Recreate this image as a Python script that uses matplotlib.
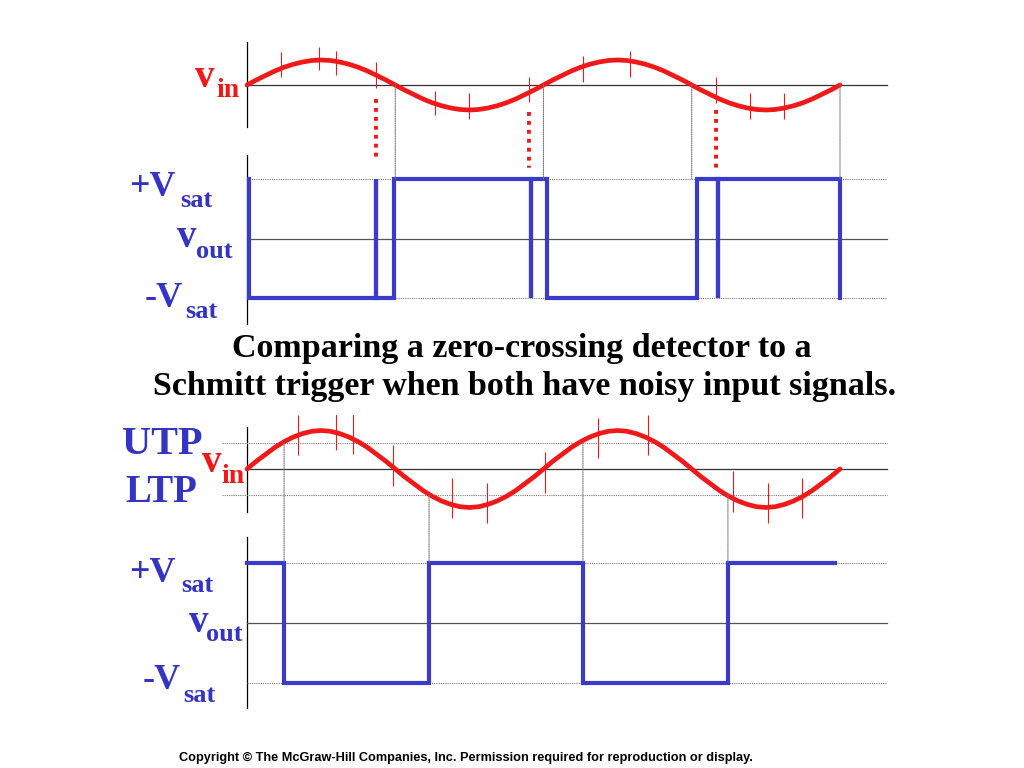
import numpy as np
import matplotlib
matplotlib.use("Agg")
import matplotlib.pyplot as plt
from matplotlib.patches import ConnectionPatch

# ---------------- data (time in periods, voltages normalised) ----------------
# input signal read every 1/32 period over two periods
vin_v = [0.00, 0.20, 0.38, 0.56, 0.71, 0.83, 0.92, 0.98, 1.00, 0.98, 0.92, 0.83, 0.71, 0.56, 0.38, 0.20,
         0.00, -0.20, -0.38, -0.56, -0.71, -0.83, -0.92, -0.98, -1.00, -0.98, -0.92, -0.83, -0.71, -0.56, -0.38, -0.20,
         0.00, 0.20, 0.38, 0.56, 0.71, 0.83, 0.92, 0.98, 1.00, 0.98, 0.92, 0.83, 0.71, 0.56, 0.38, 0.20,
         0.00, -0.20, -0.38, -0.56, -0.71, -0.83, -0.92, -0.98, -1.00, -0.98, -0.92, -0.83, -0.71, -0.56, -0.38, -0.20,
         0.00]
vin_t = np.linspace(0.0, 2.0, len(vin_v))

# zero-crossing detector (top)
zcd_noise_t = [0.115, 0.243, 0.300, 0.435, 0.634, 0.749, 0.951, 1.133, 1.292, 1.582, 1.697, 1.811]
zcd_noise_lo = [0.32, 0.60, 0.40, -0.12, -1.20, -1.36, -0.68, 0.12, 0.32, -0.72, -1.36, -1.36]
zcd_noise_hi = [1.32, 1.52, 1.36, 0.92, -0.24, -0.32, 0.32, 1.16, 1.36, 0.32, -0.32, -0.32]
zcd_start_level = 1
zcd_switch_t = [0.007, 0.435, 0.435, 0.496, 0.958, 0.958, 1.012, 1.518, 1.589, 1.589, 2.0]
zcd_cross_t = [0.5, 1.0, 1.5, 2.0]
zcd_false_t = [0.435, 0.951, 1.582]
zcd_false_vin = [-0.56, -1.08, -1.00]
zcd_false_vout = [1.31, 1.19, 1.19]

# Schmitt trigger (bottom)
utp = 0.68
ltp = -0.68
st_noise_t = [0.172, 0.300, 0.357, 0.492, 0.691, 0.809, 1.005, 1.184, 1.352, 1.639, 1.757, 1.872]
st_noise_lo = [0.36, 0.49, 0.39, -0.44, -1.27, -1.40, -0.62, 0.29, 0.36, -1.12, -1.40, -1.27]
st_noise_hi = [1.40, 1.53, 1.45, 0.62, -0.23, -0.36, 0.44, 1.32, 1.40, -0.05, -0.36, -0.23]
st_start_level = 1
st_switch_t = [0.125, 0.614, 1.133, 1.622]
st_end_t = 1.983
st_cross_t = [0.125, 0.614, 1.133, 1.622]
st_cross_v = [utp, ltp, utp, ltp]

RED = "#f01818"
BLUE = "#3a3acb"
TBLUE = "#3434c4"
GRAY = "#7a7a7a"

# ---------------- layout ----------------
W, H = 1024, 768
fig = plt.figure(figsize=(W / 100, H / 100), dpi=100)
fig.patch.set_facecolor("white")

X0, PPP = 247.0, 296.5      # pixel of t=0, pixels per period
XL, XR = 100.0, 950.0


def panel(y0, ppu, top, bot):
    ax = fig.add_axes([XL / W, 1 - bot / H, (XR - XL) / W, (bot - top) / H])
    ax.set_xlim((XL - X0) / PPP, (XR - X0) / PPP)
    ax.set_ylim((y0 - bot) / ppu, (y0 - top) / ppu)
    ax.axis("off")
    return ax


ax1 = panel(85, 25.0, 30, 140)
ax2 = panel(238.5, 59.5, 145, 330)
ax3 = panel(469, 38.5, 415, 525)
ax4 = panel(622.5, 60.0, 525, 715)

T_END = (887 - X0) / PPP


def square_path(start, switches):
    xs, ys = [switches[0]], [start]
    lvl = start
    for s in switches:
        xs += [s, s]
        ys += [lvl, -lvl]
        lvl = -lvl
    return xs[1:], ys[1:]


def vin_panel(ax, ylo, yhi, nt, nlo, nhi):
    ax.plot([0, 0], [ylo, yhi], color="black", lw=0.9)
    ax.plot([0, T_END], [0, 0], color="#333333", lw=0.9)
    ax.plot(vin_t, vin_v, color=RED, lw=3.4, solid_joinstyle="round", solid_capstyle="round", zorder=3)
    ax.vlines(nt, nlo, nhi, color=RED, lw=0.8, zorder=4)


def vout_panel(ax, ylo, yhi):
    ax.plot([0, 0], [ylo, yhi], color="black", lw=0.9)
    ax.plot([0, T_END], [0, 0], color="#555555", lw=0.9)
    for lv in (1, -1):
        ax.plot([0, T_END], [lv, lv], color=GRAY, lw=0.8, ls=(0, (1, 1)))


# top
vin_panel(ax1, -1.68, 1.72, zcd_noise_t, zcd_noise_lo, zcd_noise_hi)
vout_panel(ax2, -1.43, 1.40)
xs, ys = square_path(zcd_start_level, zcd_switch_t)
ax2.plot(xs, ys, color=BLUE, lw=3.0, solid_joinstyle="miter", zorder=3)

for t in zcd_cross_t:
    fig.add_artist(ConnectionPatch(xyA=(t, 0), coordsA=ax1.transData, xyB=(t, 1), coordsB=ax2.transData,
                                   color=GRAY, lw=0.8, ls=(0, (1, 1))))
for t, a, b in zip(zcd_false_t, zcd_false_vin, zcd_false_vout):
    fig.add_artist(ConnectionPatch(xyA=(t, a), coordsA=ax1.transData, xyB=(t, b), coordsB=ax2.transData,
                                   color=RED, lw=2.8, ls=(0, (1, 1.3)), capstyle="butt"))

# bottom
vin_panel(ax3, -1.12, 1.09, st_noise_t, st_noise_lo, st_noise_hi)
ax3.plot([(222 - X0) / PPP, T_END], [utp, utp], color=GRAY, lw=0.8, ls=(0, (1, 1)))
ax3.plot([(222 - X0) / PPP, T_END], [ltp, ltp], color=GRAY, lw=0.8, ls=(0, (1, 1)))
vout_panel(ax4, -1.43, 1.42)
xs, ys = square_path(st_start_level, st_switch_t)
xs = [0.0] + xs + [st_end_t]
ys = [st_start_level] + ys + [ys[-1]]
ax4.plot(xs, ys, color=BLUE, lw=3.0, solid_joinstyle="miter", zorder=3)
for t, v in zip(st_cross_t, st_cross_v):
    fig.add_artist(ConnectionPatch(xyA=(t, v), coordsA=ax3.transData, xyB=(t, 1), coordsB=ax4.transData,
                                   color=GRAY, lw=0.8, ls=(0, (1, 1))))

# ---------------- text ----------------
SERIF = ["Liberation Serif", "DejaVu Serif"]


def ftext(x, y, s, size, color, ha="left", family=SERIF):
    fig.text(x / W, 1 - y / H, s, fontsize=size, color=color, ha=ha, va="baseline",
             family=family, fontweight="bold")


# top labels
ftext(195, 87, "v", 28, RED)
ftext(216, 97, "in", 20, RED)
ftext(129, 196, "+V", 26, TBLUE)
ftext(180, 207, "sat", 19, TBLUE)
ftext(177, 247, "v", 28, TBLUE)
ftext(196, 258, "out", 19, TBLUE)
ftext(145, 307, "-V", 26, TBLUE)
ftext(185, 318, "sat", 19, TBLUE)

# title
ftext(522, 357, "Comparing a zero-crossing detector to a", 24.5, "black", ha="center")
ftext(525, 395, "Schmitt trigger when both have noisy input signals.", 24.5, "black", ha="center")

# bottom labels
ftext(122, 454, "UTP", 29, TBLUE)
ftext(125, 502, "LTP", 28, TBLUE)
ftext(202, 472, "v", 28, RED)
ftext(221, 483, "in", 20, RED)
ftext(129, 582, "+V", 26, TBLUE)
ftext(181, 592, "sat", 19, TBLUE)
ftext(189, 632, "v", 28, TBLUE)
ftext(206, 641, "out", 19, TBLUE)
ftext(143, 689, "-V", 26, TBLUE)
ftext(183, 702, "sat", 19, TBLUE)

ftext(466, 761, "Copyright \u00a9 The McGraw-Hill Companies, Inc. Permission required for reproduction or display.",
      9.2, "black", ha="center", family=["Liberation Sans", "DejaVu Sans"])

fig.savefig("out.png", dpi=100, facecolor="white")
